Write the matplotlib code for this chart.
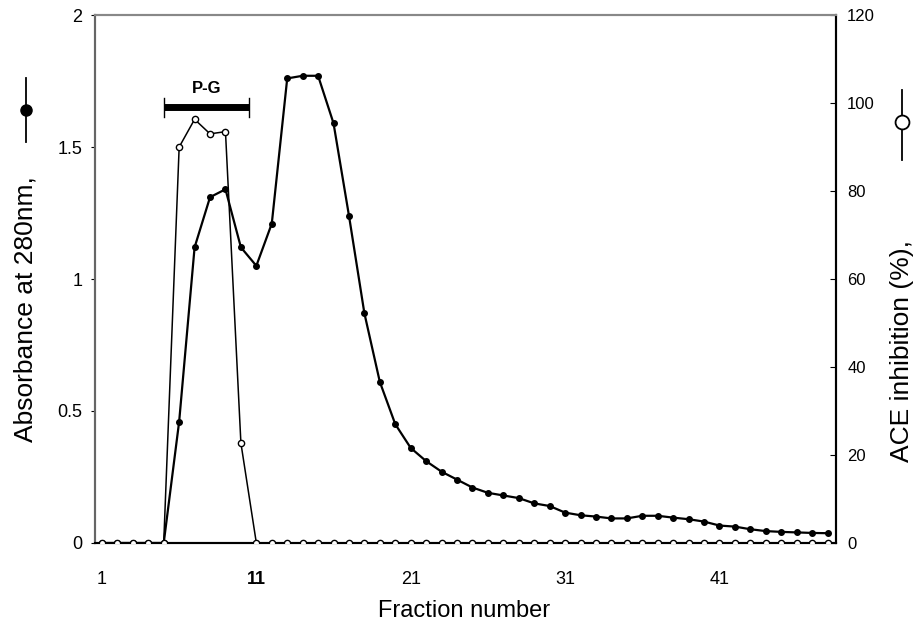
import matplotlib
matplotlib.use("Agg")
import matplotlib.pyplot as plt
from matplotlib.lines import Line2D

# fraction numbers 1..48
fractions = list(range(1, 49))

# absorbance at 280 nm (left axis, filled circles)
absorbance = [0, 0, 0, 0, 0, 0.46, 1.12, 1.31, 1.34, 1.12,
              1.05, 1.21, 1.76, 1.77, 1.77, 1.59, 1.24, 0.87, 0.61, 0.45,
              0.36, 0.31, 0.27, 0.24, 0.21, 0.19, 0.18, 0.17, 0.15, 0.14,
              0.115, 0.105, 0.10, 0.093, 0.093, 0.103, 0.103, 0.096, 0.09, 0.081,
              0.066, 0.062, 0.052, 0.045, 0.042, 0.04, 0.038, 0.037]

# ACE inhibition % (right axis, open circles)
ace_inhibition = [0, 0, 0, 0, 0, 90, 96.3, 93, 93.5, 22.7] + [0] * 38

xticks = [1, 11, 21, 31, 41]
left_ticks = [0, 0.5, 1, 1.5, 2]
left_ticklabels = ["0", "0.5", "1", "1.5", "2"]
right_ticks = [0, 20, 40, 60, 80, 100, 120]

pg_start, pg_end, pg_level = 5, 10.5, 1.65

plt.rcParams['font.family'] = ['Liberation Sans', 'DejaVu Sans']

fig = plt.figure(figsize=(9.19, 6.28), dpi=100)
ax = fig.add_axes([0.1034, 0.1354, 0.8063, 0.8406])
ax2 = ax.twinx()

ax.plot(fractions, absorbance, color="black", linewidth=1.6, marker="o",
        markersize=4, markerfacecolor="black", markeredgecolor="black", zorder=3)
ax2.plot(fractions, ace_inhibition, color="black", linewidth=1.1, marker="o",
         markersize=4.5, markerfacecolor="white", markeredgecolor="black",
         markeredgewidth=1, zorder=4)

# P-G bar
ax.plot([pg_start, pg_end], [pg_level, pg_level], color="black", linewidth=5,
        solid_capstyle="butt")
ax.plot([pg_start, pg_start], [pg_level - 0.035, pg_level + 0.035], color="black", linewidth=1)
ax.plot([pg_end, pg_end], [pg_level - 0.035, pg_level + 0.035], color="black", linewidth=1)
ax.text((pg_start + pg_end) / 2, pg_level + 0.045, "P-G", ha="center", va="bottom",
        fontsize=12, fontweight="bold")

ax.set_xlim(0.55, 48.55)
ax.set_ylim(0, 2)
ax2.set_ylim(0, 120)

ax.set_xticks(xticks)
ax.set_xticklabels([str(t) for t in xticks], fontsize=13)
ax.get_xticklabels()[1].set_fontweight("bold")
ax.tick_params(axis="x", length=0, pad=20)
ax.set_yticks(left_ticks)
ax.set_yticklabels(left_ticklabels, fontsize=13)
ax.tick_params(axis="y", direction="out", length=3, pad=6)
ax2.set_yticks(right_ticks)
ax2.set_yticklabels([str(t) for t in right_ticks], fontsize=12)
ax2.tick_params(axis="y", direction="in", length=4, pad=8)

for a in (ax, ax2):
    for s in a.spines.values():
        s.set_linewidth(1.5)
ax.spines["top"].set_color("#888888")
ax2.spines["top"].set_color("#888888")
ax.spines["left"].set_color("#666666")
ax2.spines["left"].set_color("#666666")

fig.text(0.505, 1 - 611 / 628, "Fraction number", ha="center", va="center", fontsize=17)

# axis titles with series symbols
fig.text(0.028, 1 - 309 / 628, "Absorbance at 280nm,", rotation=90, ha="center",
         va="center", fontsize=19)
fig.add_artist(Line2D([0.028, 0.028], [1 - 78 / 628, 1 - 142 / 628], color="black",
                      linewidth=1.3))
fig.add_artist(Line2D([0.028], [1 - 110 / 628], color="black", marker="o", markersize=8,
                      markerfacecolor="black"))

fig.text(0.982, 1 - 351 / 628, "ACE inhibition (%),", rotation=90, ha="center",
         va="center", fontsize=19)
fig.add_artist(Line2D([0.982, 0.982], [1 - 90 / 628, 1 - 160 / 628], color="black",
                      linewidth=1.3))
fig.add_artist(Line2D([0.982], [1 - 122 / 628], color="black", marker="o", markersize=10,
                      markerfacecolor="white", markeredgewidth=1.3))

fig.savefig("out.png", dpi=100)
